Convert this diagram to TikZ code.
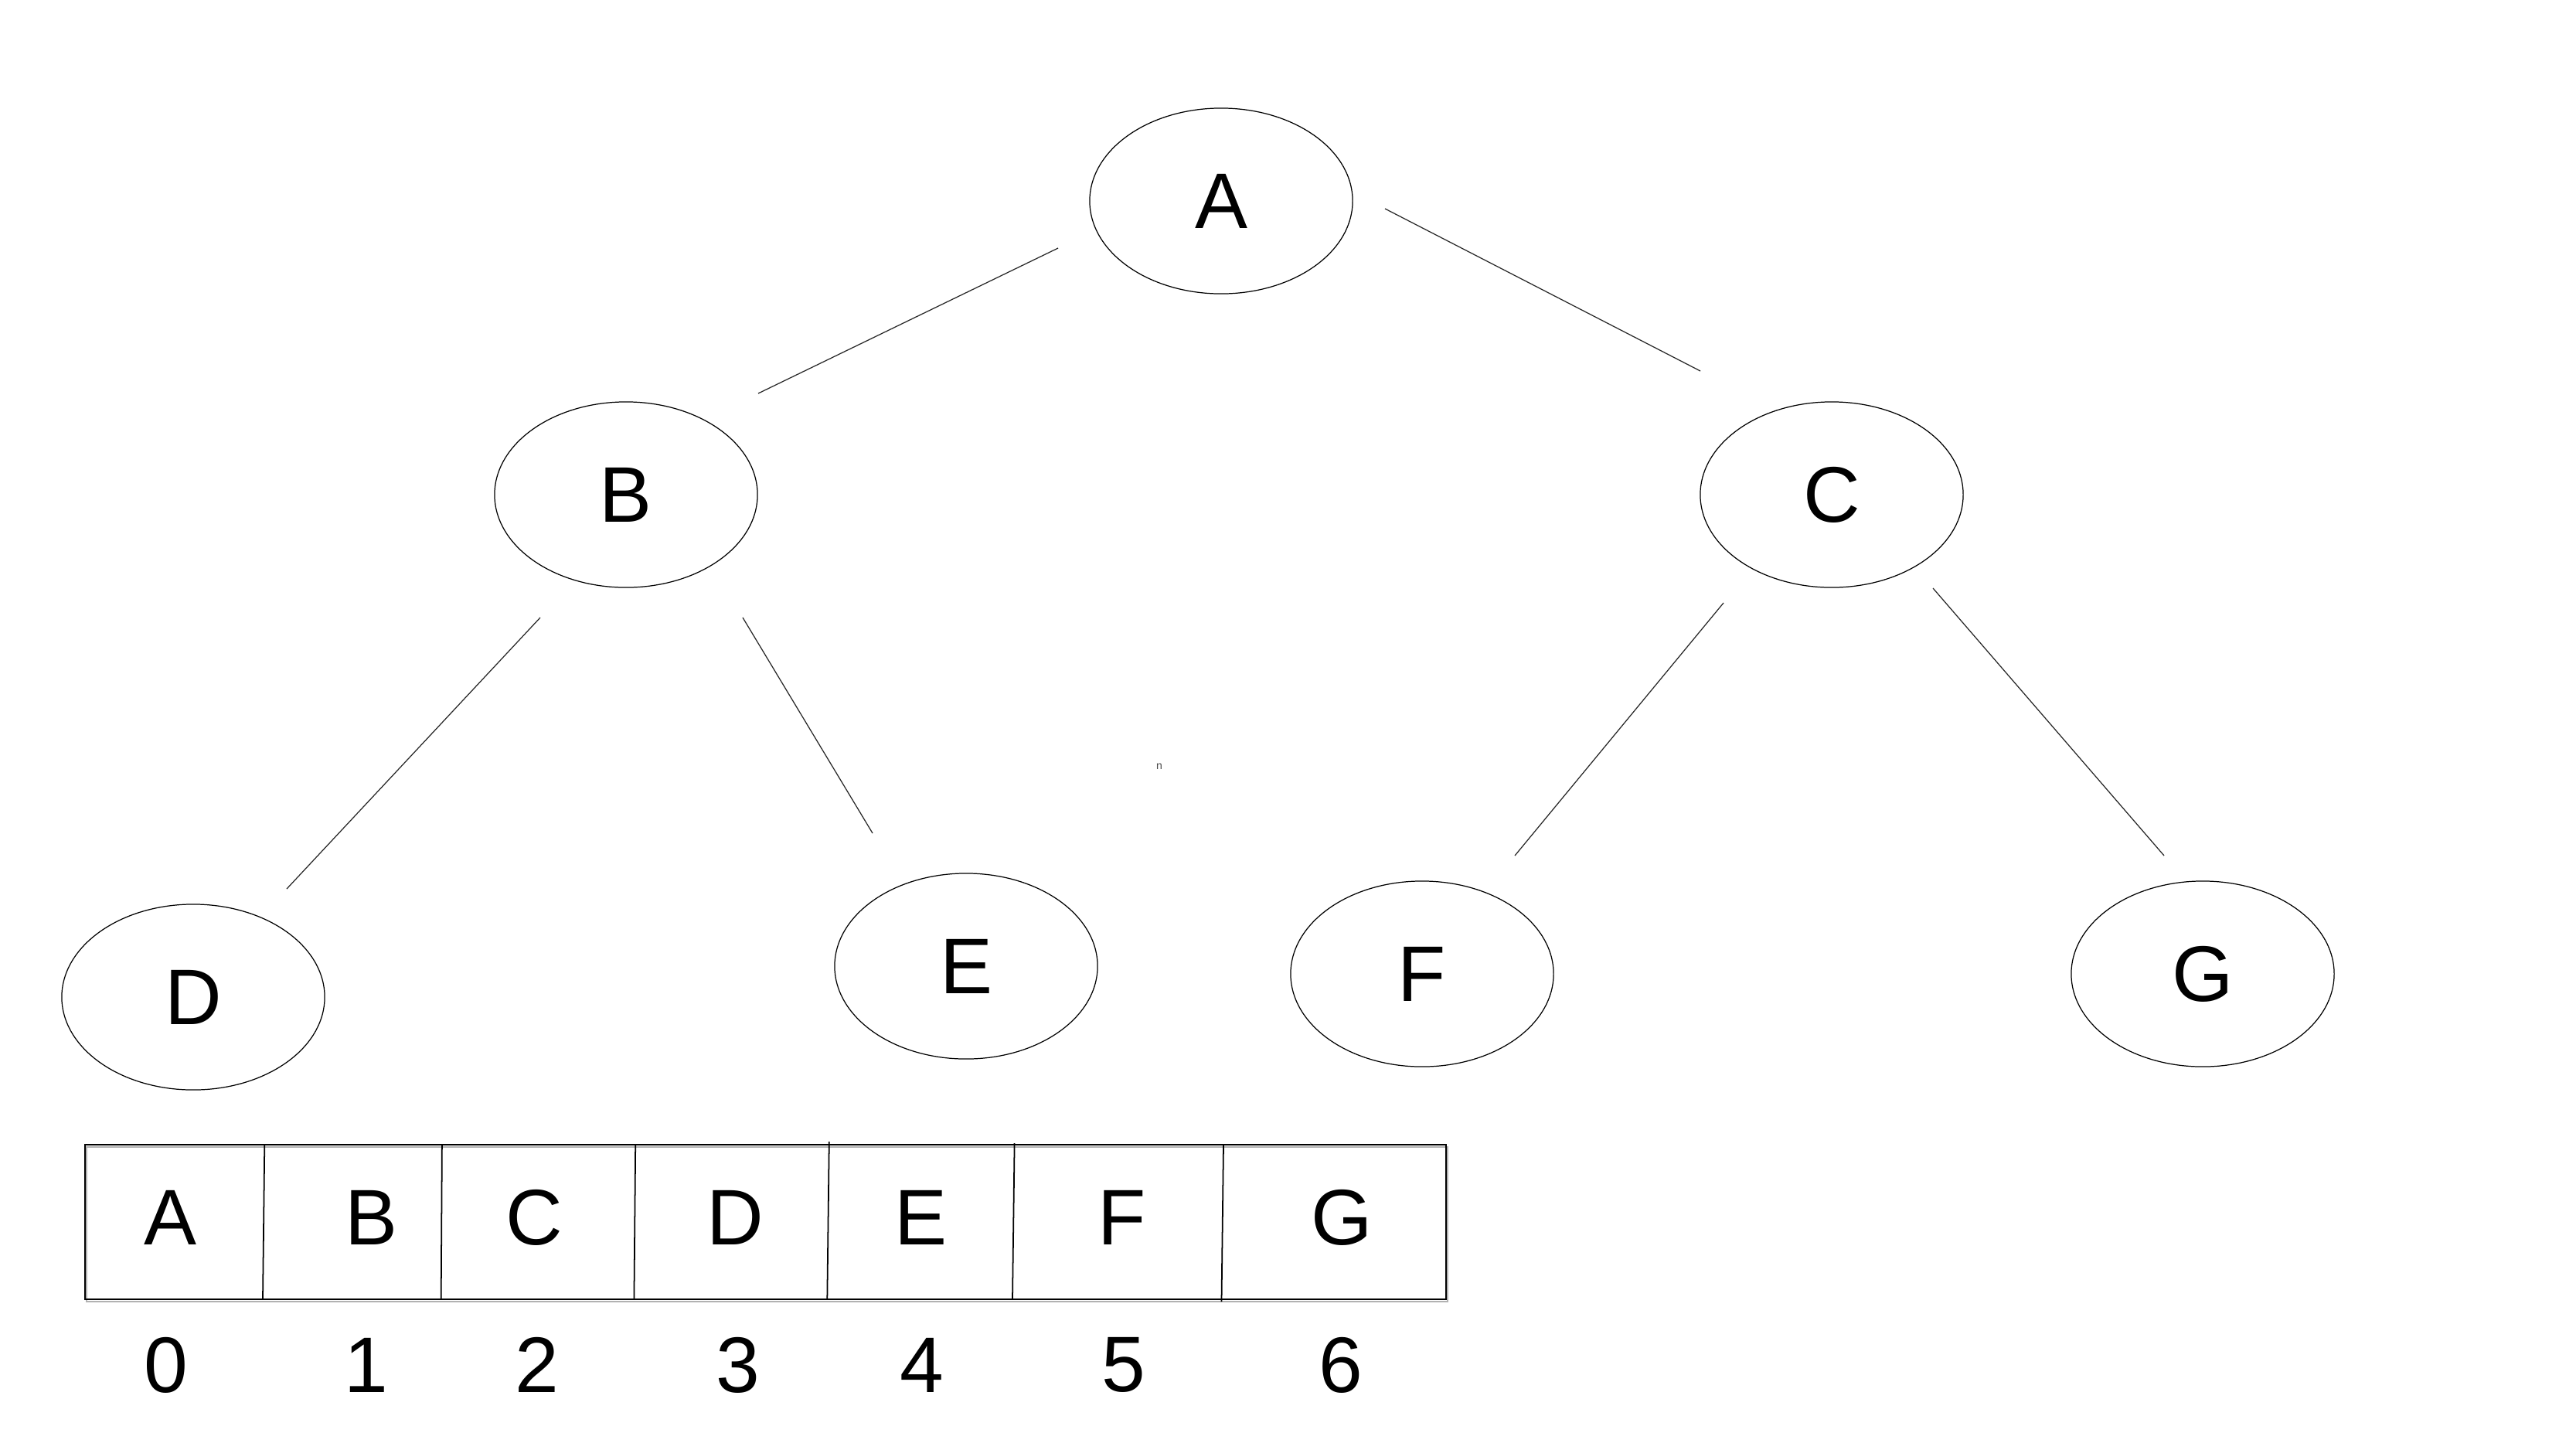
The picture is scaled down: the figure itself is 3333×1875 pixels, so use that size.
\documentclass[tikz,border=0pt]{standalone}
\usepackage{fontspec}
\setmainfont{Liberation Sans}
\usetikzlibrary{shapes.geometric}
\begin{document}
\begin{tikzpicture}[x=0.01cm,y=-0.01cm,
  treenode/.style={ellipse,draw=black,line width=0.35pt,minimum width=3.4cm,
    minimum height=2.4cm,inner sep=0pt,font=\fontsize{29}{35}\selectfont},
  treeedge/.style={draw=black!85,line width=0.35pt},
  celltext/.style={inner sep=0pt,font=\fontsize{29}{35}\selectfont},
  cellline/.style={draw=black,line width=0.5pt},
  shadowline/.style={draw=black!30,line width=0.4pt}]
\useasboundingbox[fill=white] (0,0) rectangle (3333,1875);

% tree nodes
\node[treenode] (A) at (1580,260) {A};
\node[treenode] (B) at (810,640) {B};
\node[treenode] (C) at (2370,640) {C};
\node[treenode] (D) at (250,1290) {D};
\node[treenode] (E) at (1250,1250) {E};
\node[treenode] (F) at (1840,1260) {F};
\node[treenode] (G) at (2850,1260) {G};

% free-standing edge end points (edges stop short of the ellipses)
\coordinate (ab1) at (1369,321);  \coordinate (ab2) at (981,509);
\coordinate (ac1) at (1792,270);  \coordinate (ac2) at (2200,480);
\coordinate (bd1) at (699,799);   \coordinate (bd2) at (371,1150);
\coordinate (be1) at (961,799);   \coordinate (be2) at (1129,1078);
\coordinate (cf1) at (2230,780);  \coordinate (cf2) at (1960,1107);
\coordinate (cg1) at (2501,761);  \coordinate (cg2) at (2800,1107);

\draw[treeedge] (ab1) -- (ab2);
\draw[treeedge] (ac1) -- (ac2);
\draw[treeedge] (bd1) -- (bd2);
\draw[treeedge] (be1) -- (be2);
\draw[treeedge] (cf1) -- (cf2);
\draw[treeedge] (cg1) -- (cg2);

% stray mark
\node[inner sep=0pt,font=\fontsize{4}{5}\selectfont,text=black!70] (speck) at (1500,992) {n};

% array frame with its faint offset outline
\coordinate (arrTL) at (110,1481);
\coordinate (arrBR) at (1871,1681);
\draw[shadowline] (112,1484) rectangle (1873,1684);
\draw[cellline] (arrTL) rectangle (arrBR);

% cell separators (slightly slanted)
\draw[cellline] (342.3,1481) -- (340,1681);
\draw[cellline] (571.9,1481) -- (570.7,1681);
\draw[cellline] (822.2,1481) -- (820.4,1681);
\draw[cellline] (1072.8,1477) -- (1070.3,1681);
\draw[cellline] (1312.6,1479) -- (1310,1681);
\draw[cellline] (1583,1481) -- (1580.5,1684);

% cell contents
\node[celltext] (a0) at (221,1575) {A};
\node[celltext] (a1) at (481,1575) {B};
\node[celltext] (a2) at (691,1575) {C};
\node[celltext] (a3) at (951,1575) {D};
\node[celltext] (a4) at (1191,1575) {E};
\node[celltext] (a5) at (1452,1575) {F};
\node[celltext] (a6) at (1736,1575) {G};

% indices
\node[celltext] (i0) at (215,1766) {0};
\node[celltext] (i1) at (474,1766) {1};
\node[celltext] (i2) at (695,1766) {2};
\node[celltext] (i3) at (955,1766) {3};
\node[celltext] (i4) at (1193,1766) {4};
\node[celltext] (i5) at (1454,1766) {5};
\node[celltext] (i6) at (1735,1766) {6};
\end{tikzpicture}
\end{document}
